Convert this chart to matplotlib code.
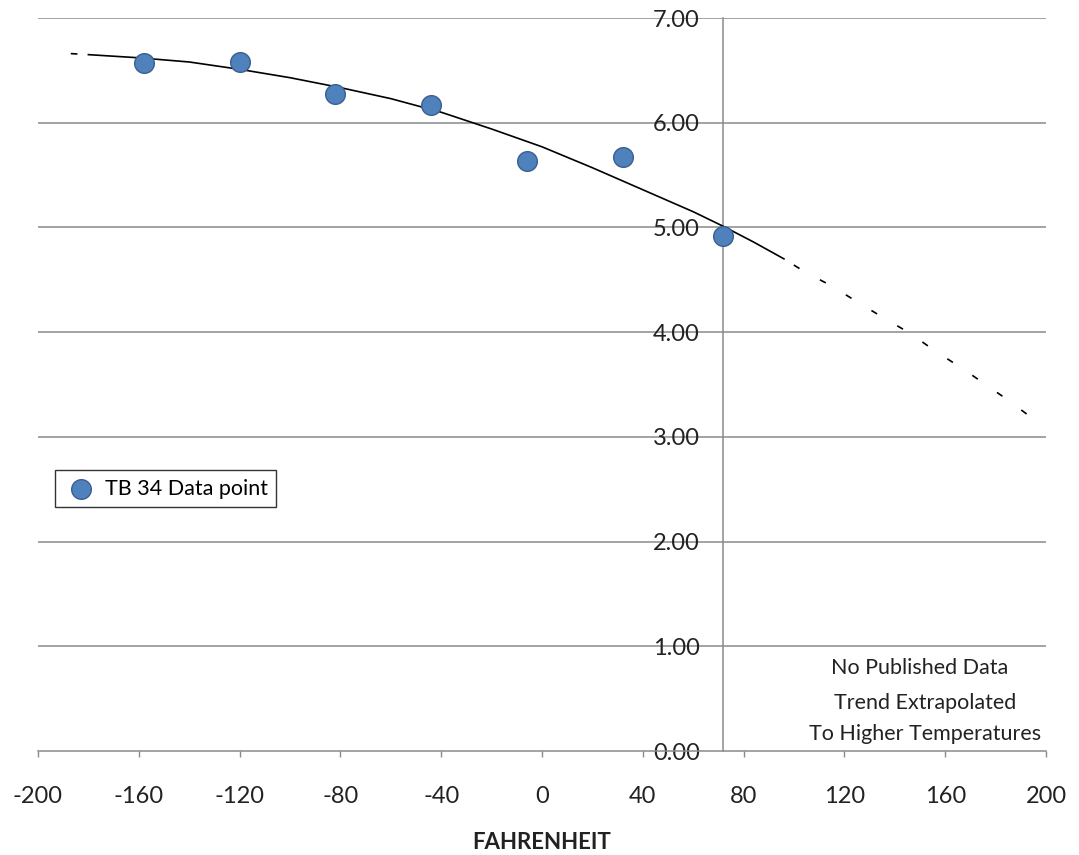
import matplotlib
matplotlib.use('Agg')
import matplotlib.pyplot as plt

plt.rcParams['font.family'] = ['Lato', 'DejaVu Sans']

# TB 34 data points
temp_f = [-158, -120, -82, -44, -6, 32, 72]
value = [6.57, 6.58, 6.27, 6.17, 5.63, 5.67, 4.92]

# trend line (solid part)
trend_x = [-180, -160, -140, -120, -100, -80, -60, -40, -20, 0, 20, 40, 60, 72, 84, 96]
trend_y = [6.65, 6.62, 6.58, 6.51, 6.43, 6.335, 6.23, 6.10, 5.94, 5.77, 5.57, 5.36, 5.15, 5.01, 4.86, 4.70]
# dashed extrapolation, both ends
back_x = [-187, -180]
back_y = [6.66, 6.65]
ext_x = [96, 104, 115, 125, 136, 146, 156, 167, 176, 185, 195, 198]
ext_y = [4.70, 4.58, 4.44, 4.29, 4.13, 3.99, 3.82, 3.65, 3.50, 3.35, 3.17, 3.12]

xticks = list(range(-200, 201, 40))
yticks = [0, 1, 2, 3, 4, 5, 6, 7]
note_lines = ['No Published Data', 'Trend Extrapolated', 'To Higher Temperatures']

grid_col = '#8a8a8a'

fig = plt.figure(figsize=(10.79, 8.55), dpi=100)
ax = fig.add_axes([38/1079, 104/855, 1008/1079, 733/855])

ax.set_xlim(-200, 200)
ax.set_ylim(0, 7)

for y in yticks[1:]:
    ax.axhline(y, color=grid_col, lw=1.1, zorder=1)

for s in ['top', 'right']:
    ax.spines[s].set_visible(False)
ax.spines['bottom'].set_color(grid_col)
ax.spines['bottom'].set_linewidth(1.1)
ax.spines['left'].set_position(('data', 72))
ax.spines['left'].set_color(grid_col)
ax.spines['left'].set_linewidth(1.1)

ax.set_xticks(xticks)
ax.set_xticklabels([str(t) for t in xticks])
ax.set_yticks(yticks)
ax.set_yticklabels(['%.2f' % t for t in yticks])
ax.tick_params(axis='x', direction='out', length=4.5, width=1, color=grid_col,
               pad=21, labelsize=17, labelcolor='#222222')
ax.tick_params(axis='y', length=0, pad=17, labelsize=17, labelcolor='#222222')

ax.plot(trend_x, trend_y, color='black', lw=1.2, zorder=3)
ax.plot(back_x, back_y, color='black', lw=1.2, ls=(0, (4, 14)), zorder=3)
ax.plot(ext_x, ext_y, color='black', lw=1.2, ls=(11, (4, 14)), zorder=3)

ax.scatter(temp_f, value, s=200, color='#4f81bd', edgecolor='#3a5f8f',
           linewidth=1, zorder=4, label='TB 34 Data point')

leg = ax.legend(loc='upper left', bbox_to_anchor=(55/1079, 1 - 470/855),
                bbox_transform=fig.transFigure, borderaxespad=0, fancybox=False,
                frameon=True, fontsize=15.5, handletextpad=0.3, borderpad=0.4,
                handlelength=1.6, scatterpoints=1)
leg.get_frame().set_edgecolor('black')
leg.get_frame().set_linewidth(1.0)

note_y = [0.79, 0.46, 0.16]
note_x = [150, 152, 152]
for t, xx, yy in zip(note_lines, note_x, note_y):
    ax.text(xx, yy, t, ha='center', va='center', fontsize=15.5, color='#222222')

fig.text(542/1079, 1 - 842/855, 'FAHRENHEIT', ha='center', va='center',
         fontsize=16, fontweight='bold', color='#222222')

fig.savefig('out.png', dpi=100)
